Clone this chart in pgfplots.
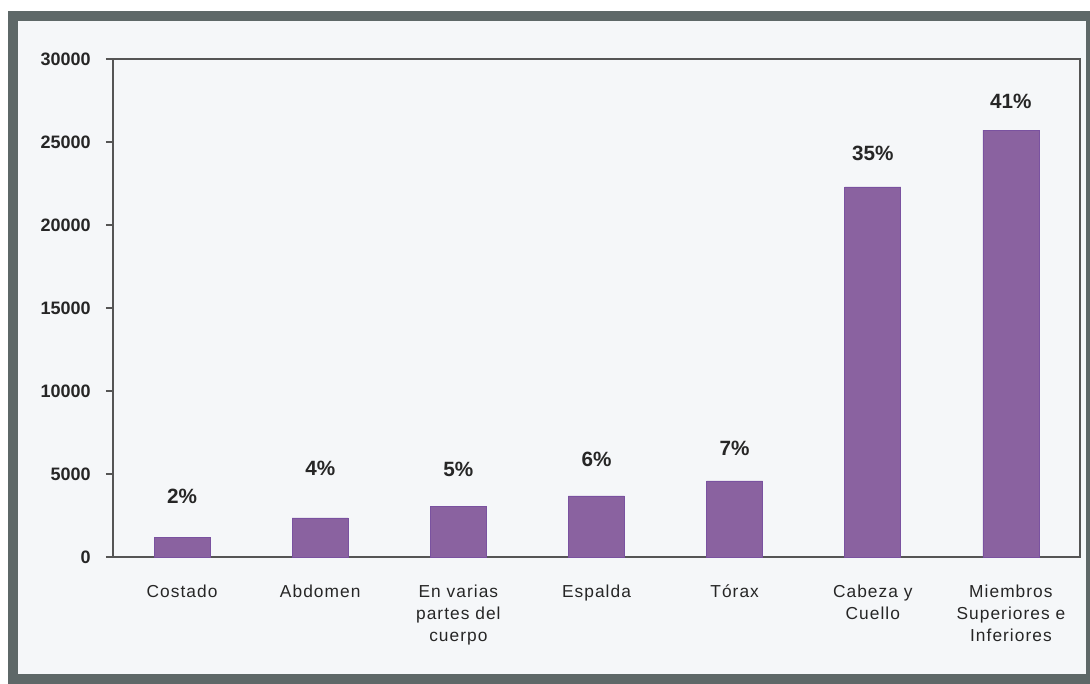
\documentclass[border=0pt]{standalone}
\usepackage{fontspec}
\setmainfont{Liberation Sans}
\newfontfamily\catfont[LetterSpace=6]{Liberation Sans}
\usepackage{pgfplots}
\pgfplotsset{compat=1.18}
\definecolor{framegray}{HTML}{5E6868}
\definecolor{panelbg}{HTML}{F5F7F9}
\definecolor{barpurple}{HTML}{8A62A0}
\definecolor{baredge}{HTML}{7A52A0}
\definecolor{axisgray}{HTML}{555555}

\begin{document}
\begin{tikzpicture}[x=0.75pt,y=0.75pt]
\path[use as bounding box] (0,0) rectangle (1090,684);
\fill[white] (0,0) rectangle (1090,684);
\fill[framegray] (8,0) rectangle (1090,673);
\fill[panelbg] (18,10) rectangle (1086,663);
\begin{axis}[
    at={(84.75pt,95.25pt)}, anchor=south west,
    scale only axis,
    width=725.25pt, height=373.5pt,
    xmin=-0.5, xmax=6.5,
    ymin=0, ymax=30000,
    ytick={0,5000,10000,15000,20000,25000,30000},
    xtick={0,1,2,3,4,5,6},
    xticklabels={Costado, Abdomen, {En varias\\partes del\\cuerpo}, Espalda, Tórax, {Cabeza y\\Cuello}, {Miembros\\Superiores e\\Inferiores}},
    scaled y ticks=false,
    ytick pos=left,
    axis line style={axisgray, line width=1.1pt},
    tick align=outside,
    major tick length=5.25pt,
    ytick style={axisgray, line width=1.1pt},
    xtick style={draw=none},
    /pgf/number format/assume math mode=true,
    yticklabel style={font=\fontsize{13.5}{16}\selectfont\bfseries, text=black!85, xshift=-8pt},
    xticklabel style={font=\catfont\fontsize{13}{16.5}\selectfont, align=center, text=black!85, yshift=-12pt},
    yticklabel={\pgfmathprintnumber[fixed, precision=0, 1000 sep={}]{\tick}},
    axis background/.style={fill=panelbg},
    clip=false,
]
\addplot[ybar, bar width=42pt, fill=barpurple, draw=baredge, line width=0.6pt]
    coordinates {(0,1200) (1,2350) (2,3070) (3,3680) (4,4580) (5,22290) (6,25720)};
\addplot[only marks, mark=none, point meta=explicit,
    nodes near coords={\pgfmathprintnumber{\pgfplotspointmeta}\%},
    nodes near coords align=center,
    every node near coord/.append style={font=\fontsize{15.5}{18}\selectfont\bfseries, text=black!85}]
    coordinates {(0,3675) [2] (1,5360) [4] (2,5300) [5] (3,5900) [6] (4,6570) [7] (5,24340) [35] (6,27470) [41]};
\end{axis}
\end{tikzpicture}
\end{document}
